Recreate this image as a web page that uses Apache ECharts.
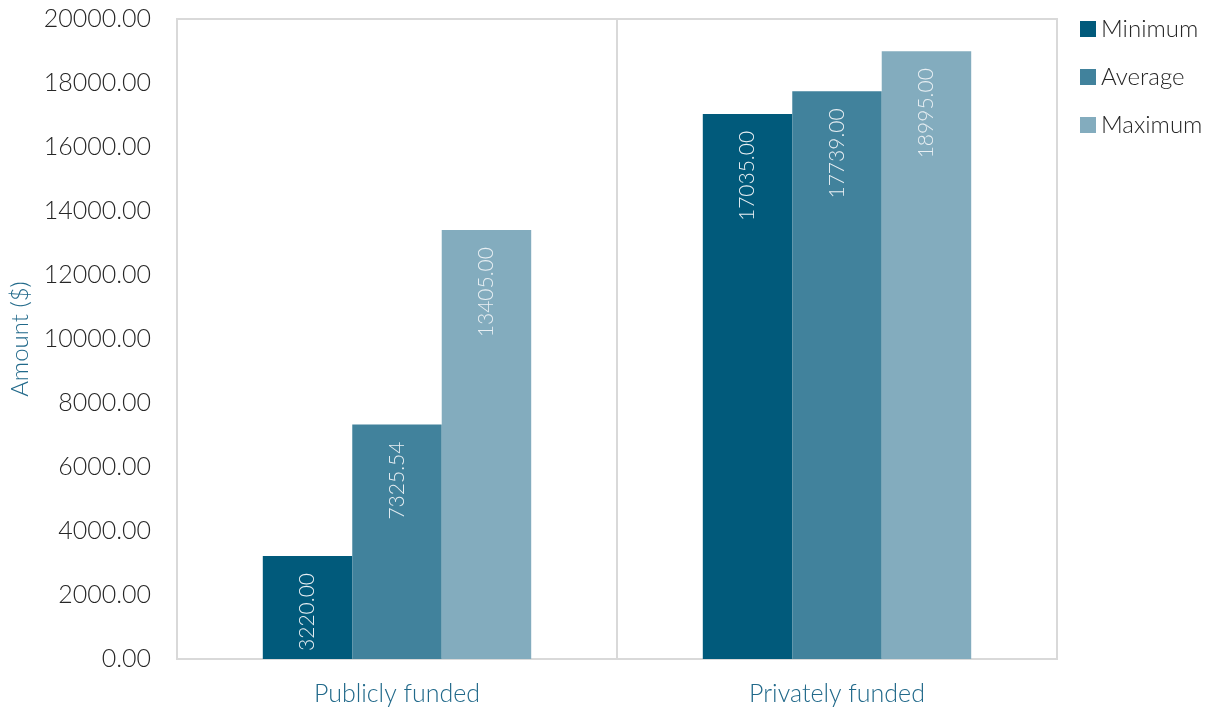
<!DOCTYPE html>
<html>
<head>
<meta charset="utf-8">
<script src="https://cdn.jsdelivr.net/npm/echarts@6/dist/echarts.min.js"></script>
<style>
html,body{margin:0;padding:0;background:#fff;}
#chart{width:1217px;height:710px;}
</style>
</head>
<body>
<div id="chart"></div>
<script>
const categories = ['Publicly funded', 'Privately funded'];
const seriesNames = ['Minimum', 'Average', 'Maximum'];
const minimumValues = [3220.00, 17035.00];
const averageValues = [7325.54, 17739.00];
const maximumValues = [13405.00, 18995.00];
const seriesColors = ['#015a7b', '#41829c', '#83acbe'];
const yAxisName = 'Amount ($)';

const FONT = 'Lato, "Open Sans", sans-serif';
const W = 300;
const seriesValues = [minimumValues, averageValues, maximumValues];

const chart = echarts.init(document.getElementById('chart'));
chart.setOption({
  animation: false,
  textStyle: { fontFamily: FONT },
  grid: {
    left: 177, right: 160, top: 19, bottom: 51,
    show: true, borderColor: '#d9d9d9', borderWidth: 2
  },
  legend: {
    orient: 'vertical',
    left: 1075, top: 12,
    icon: 'rect',
    itemWidth: 16, itemHeight: 16, itemGap: 24,
    textStyle: { fontSize: 24, color: '#262626', fontFamily: FONT, fontWeight: W },
    data: seriesNames
  },
  xAxis: {
    type: 'category',
    data: categories,
    axisTick: { show: false },
    axisLine: { lineStyle: { color: '#d9d9d9', width: 2 } },
    splitLine: { show: true, lineStyle: { color: '#d9d9d9', width: 2 } },
    axisLabel: { fontSize: 25, color: '#21698a', margin: 22, fontFamily: FONT, fontWeight: W }
  },
  yAxis: {
    type: 'value',
    min: 0, max: 20000, interval: 2000,
    name: yAxisName,
    nameLocation: 'middle',
    nameGap: 141,
    nameTextStyle: { fontSize: 24, color: '#21698a', fontFamily: FONT, fontWeight: W },
    axisLine: { show: false },
    axisTick: { show: false },
    splitLine: { show: false },
    axisLabel: {
      fontSize: 25, color: '#262626', margin: 26, fontFamily: FONT, fontWeight: W,
      formatter: v => v.toFixed(2)
    }
  },
  series: seriesNames.map((name, i) => ({
    name,
    type: 'bar',
    data: seriesValues[i],
    barGap: '0%',
    barCategoryGap: '39%',
    itemStyle: { color: seriesColors[i] },
    label: {
      show: true,
      position: 'insideTop',
      rotate: 90,
      align: 'right',
      verticalAlign: 'middle',
      distance: 17,
      fontSize: 21,
      color: '#e8eff3',
      fontFamily: FONT,
      fontWeight: W,
      formatter: p => Number(p.value).toFixed(2)
    }
  }))
});
</script>
</body>
</html>
